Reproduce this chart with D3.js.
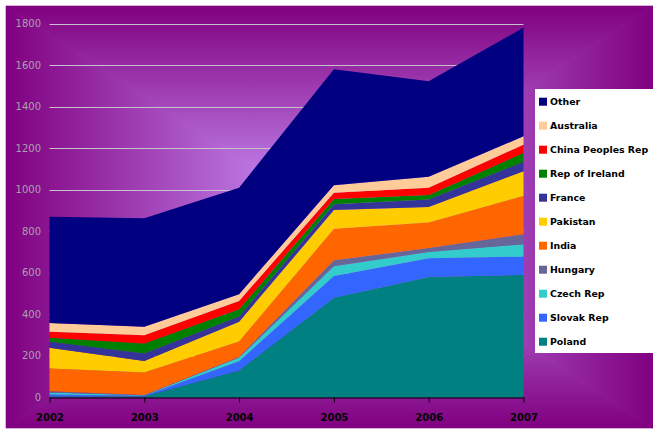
<!DOCTYPE html>
<html>
<head>
<meta charset="utf-8">
<script src="https://cdn.jsdelivr.net/npm/d3@7"></script>
<style>
  html, body { margin: 0; padding: 0; background: #fff; }
  svg { display: block; }
  text { font-family: "DejaVu Sans", Verdana, sans-serif; }
</style>
</head>
<body>
<div id="chart"></div>
<script>
// years on the x axis
let years = [2002, 2003, 2004, 2005, 2006, 2007];
// series, bottom to top of the stack
let seriesNames = ["Poland", "Slovak Rep", "Czech Rep", "Hungary", "India", "Pakistan",
  "France", "Rep of Ireland", "China Peoples Rep", "Australia", "Other"];
let poland = [5, 6, 130, 480, 580, 590];
let slovak = [9, 3, 45, 105, 90, 88];
let czech = [10, 2, 17, 47, 30, 60];
let hungary = [6, 1, 3, 28, 20, 48];
let india = [110, 108, 75, 152, 122, 184];
let pakistan = [99, 56, 95, 90, 75, 119];
let france = [29, 36, 25, 28, 36, 45];
let ireland = [19, 48, 35, 25, 21, 43];
let china = [29, 40, 40, 30, 35, 40];
let australia = [43, 40, 32, 36, 53, 40];
let other = [511, 523, 513, 559, 460, 523];
let yTicks = [0, 200, 400, 600, 800, 1000, 1200, 1400, 1600, 1800];

let seriesValues = [poland, slovak, czech, hungary, india, pakistan, france, ireland, china, australia, other];
let colors = ["#008080", "#3366FF", "#33CCCC", "#666699", "#FF6600", "#FFCC00",
  "#333399", "#008000", "#FF0000", "#FFCC99", "#000080"];

let W = 653, H = 430;
let svg = d3.select("#chart").append("svg").attr("width", W).attr("height", H);

// background: rectangular "from centre" gradient built from four triangles
let bg = { x0: 6, y0: 6, x1: 653, y1: 428 };
let cx = 330, cy = 217;
let dark = "#800080", light = "#CC99FF";
let defs = svg.append("defs");
let parts = [
  { id: "gT", pts: [[bg.x0, bg.y0], [bg.x1, bg.y0], [cx, cy]], g: [0, bg.y0, 0, cy] },
  { id: "gB", pts: [[bg.x0, bg.y1], [bg.x1, bg.y1], [cx, cy]], g: [0, bg.y1, 0, cy] },
  { id: "gL", pts: [[bg.x0, bg.y0], [bg.x0, bg.y1], [cx, cy]], g: [bg.x0, 0, cx, 0] },
  { id: "gR", pts: [[bg.x1, bg.y0], [bg.x1, bg.y1], [cx, cy]], g: [bg.x1, 0, cx, 0] },
];
parts.forEach((p) => {
  let lg = defs.append("linearGradient").attr("id", p.id)
    .attr("gradientUnits", "userSpaceOnUse")
    .attr("x1", p.g[0]).attr("y1", p.g[1]).attr("x2", p.g[2]).attr("y2", p.g[3]);
  lg.append("stop").attr("offset", 0).attr("stop-color", dark);
  lg.append("stop").attr("offset", 1).attr("stop-color", light);
});
svg.append("rect").attr("x", bg.x0).attr("y", bg.y0)
  .attr("width", bg.x1 - bg.x0).attr("height", bg.y1 - bg.y0).attr("fill", "#a050b8");
parts.forEach((p) => {
  svg.append("polygon")
    .attr("points", p.pts.map((d) => d.join(",")).join(" "))
    .attr("fill", `url(#${p.id})`)
    .attr("stroke", `url(#${p.id})`).attr("stroke-width", 0.6);
});

// scales
let x = d3.scalePoint().domain(years).range([49.5, 523.5]);
let y = d3.scaleLinear().domain([0, 1800]).range([397.5, 23.5]);

// gridlines
svg.append("g").selectAll("line").data(yTicks.slice(1)).join("line")
  .attr("x1", x(2002)).attr("x2", x(2007))
  .attr("y1", (d) => Math.round(y(d)) + 0.5).attr("y2", (d) => Math.round(y(d)) + 0.5)
  .attr("stroke", "#c8c0cc").attr("stroke-width", 1);

// stacked areas
let table = years.map((yr, i) => {
  let row = { year: yr };
  seriesNames.forEach((s, j) => (row[s] = seriesValues[j][i]));
  return row;
});
let stacked = d3.stack().keys(seriesNames)(table);
let area = d3.area()
  .x((d) => x(d.data.year))
  .y0((d) => y(d[0]))
  .y1((d) => y(d[1]));
svg.append("g").selectAll("path").data(stacked).join("path")
  .attr("d", area)
  .attr("fill", (d, i) => colors[i]);

// y tick labels
svg.append("g").selectAll("text").data(yTicks).join("text")
  .attr("x", 41).attr("y", (d) => y(d)).attr("dy", "0.35em")
  .attr("text-anchor", "end")
  .attr("font-size", 10).attr("fill", "#a8a0ac")
  .text((d) => d);

// x axis
let xAxis = svg.append("g").attr("transform", `translate(0,${397.5})`);
xAxis.call(d3.axisBottom(x).tickSize(5).tickPadding(11).tickSizeOuter(0));
xAxis.select(".domain").attr("stroke", "#000");
xAxis.selectAll(".tick line").attr("stroke", "#000");
xAxis.selectAll("text")
  .attr("font-family", '"DejaVu Sans", Verdana, sans-serif')
  .attr("font-size", 10).attr("font-weight", "bold").attr("fill", "#000");

// legend
let legend = svg.append("g");
legend.append("rect").attr("x", 535).attr("y", 89).attr("width", 125).attr("height", 264)
  .attr("fill", "#fff");
let legendOrder = seriesNames.slice().reverse();
let legendColors = colors.slice().reverse();
let item = legend.selectAll("g.item").data(legendOrder).join("g")
  .attr("class", "item")
  .attr("transform", (d, i) => `translate(539,${101.7 + 24 * i})`);
item.append("rect").attr("x", 0).attr("y", -4).attr("width", 8).attr("height", 8)
  .attr("fill", (d, i) => legendColors[i]);
item.append("text").attr("x", 11).attr("y", 0).attr("dy", "0.36em")
  .attr("font-size", 9.4).attr("font-weight", "bold").attr("fill", "#000")
  .text((d) => d);
</script>
</body>
</html>
